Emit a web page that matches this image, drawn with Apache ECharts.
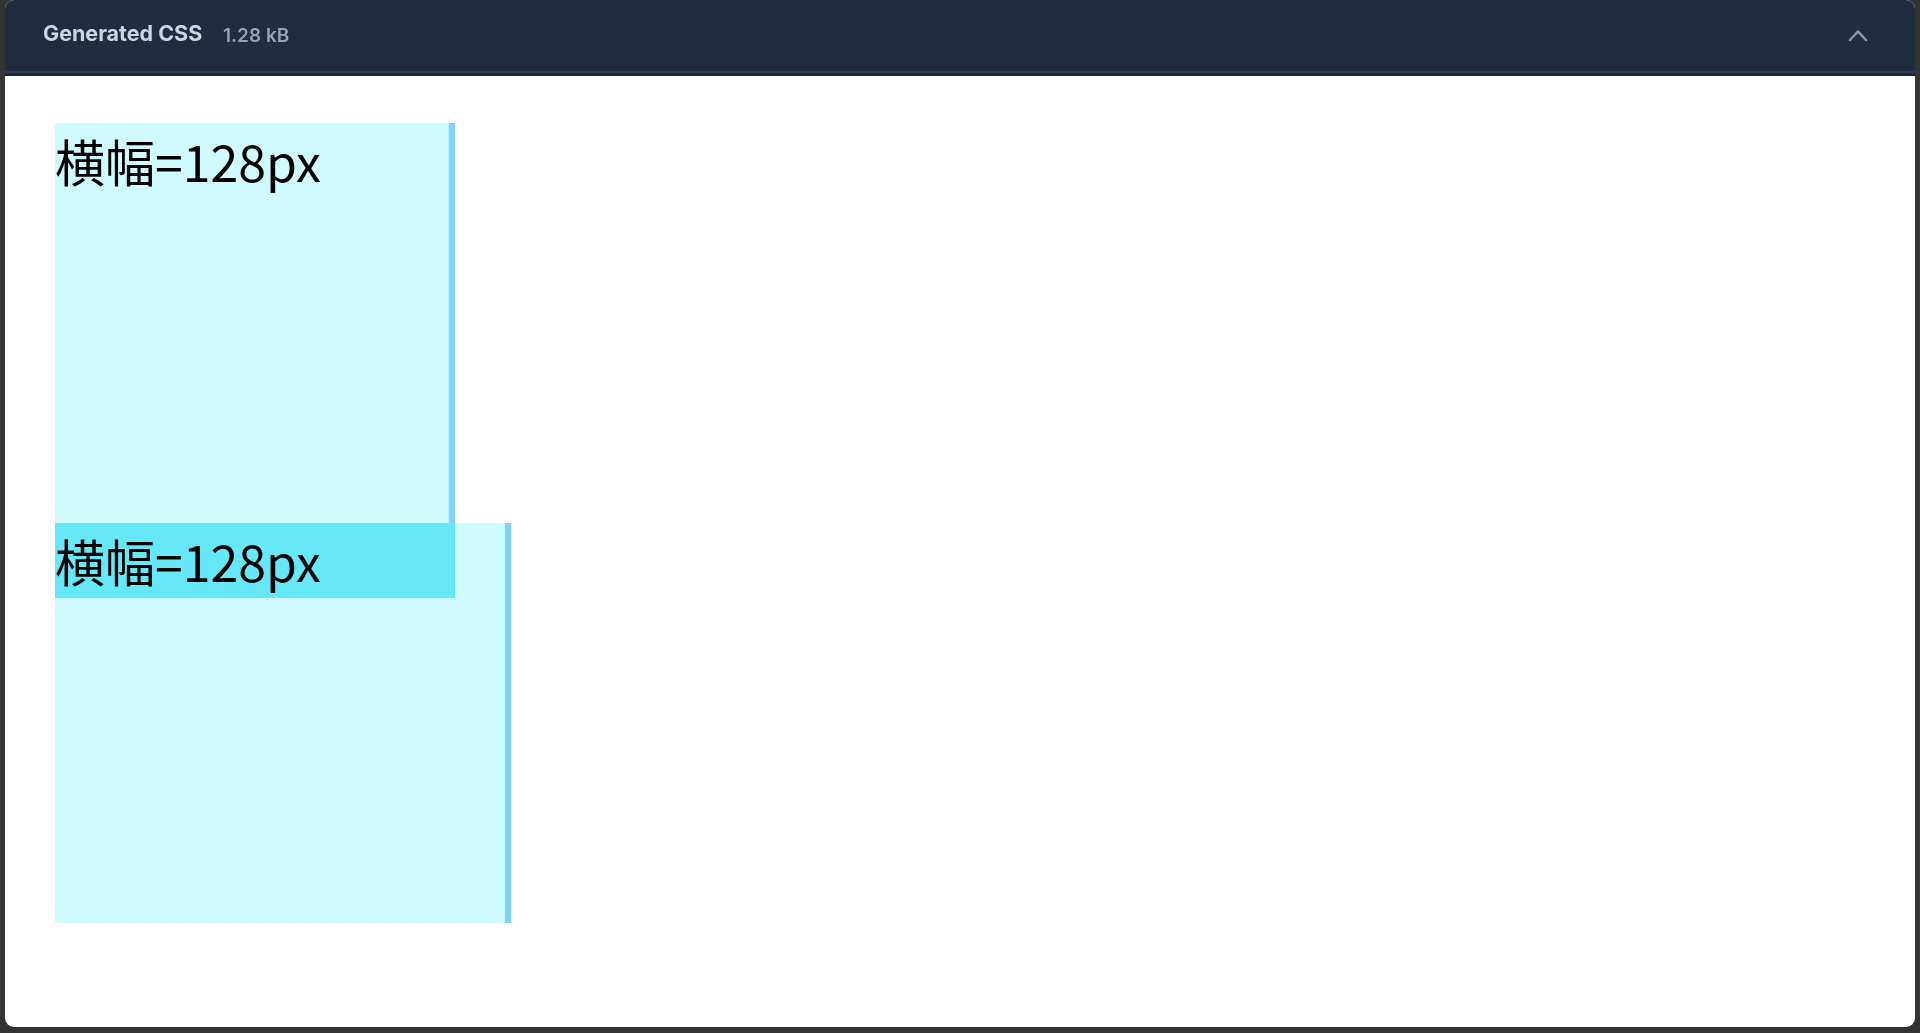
<!DOCTYPE html>
<html>
<head>
<meta charset="utf-8">
<script src="https://cdn.jsdelivr.net/npm/echarts@6/dist/echarts.min.js"></script>
<style>
html,body{margin:0;padding:0;background:#333;}
#main{width:1920px;height:1033px;}
</style>
</head>
<body>
<div id="main"></div>
<script>
// Demo boxes (CSS px units)
const boxLabels = ['横幅=128px', '横幅=128px'];
const boxWidths = [128, 146];        // outer width incl. right border
const boxHeights = [128, 128];
const labelHighlightWidths = [0, 128]; // highlighted label band width
const borderRightWidth = 2;
const labelLineHeight = 24;
const headerTitle = 'Generated CSS';
const headerSize = '1.28 kB';

const boxData = [];
let boxOffset = 0;
for (let i = 0; i < boxLabels.length; i++) {
  boxData.push([i, boxOffset, boxWidths[i], boxHeights[i], labelHighlightWidths[i]]);
  boxOffset += boxHeights[i];
}

const chart = echarts.init(document.getElementById('main'), null, {renderer: 'canvas'});

function renderItem(params, api) {
  const i = api.value(0);
  const t = api.value(1);
  const w = api.value(2);
  const h = api.value(3);
  const hl = api.value(4);
  const p0 = api.coord([0, t]);
  const pIn = api.coord([w - borderRightWidth, t + h]);
  const p1 = api.coord([w, t + h]);
  const children = [
    {type: 'rect', shape: {x: p0[0], y: p0[1], width: pIn[0] - p0[0], height: p1[1] - p0[1]}, style: {fill: '#cffafe'}},
    {type: 'rect', shape: {x: pIn[0], y: p0[1], width: p1[0] - pIn[0], height: p1[1] - p0[1]}, style: {fill: '#7dd3fc'}}
  ];
  const lh = api.coord([0, t + labelLineHeight]);
  if (hl > 0) {
    const ph = api.coord([hl, t + labelLineHeight]);
    children.push({type: 'rect', shape: {x: p0[0], y: p0[1], width: ph[0] - p0[0], height: ph[1] - p0[1]}, style: {fill: '#67e8f9'}});
  }
  children.push({
    type: 'text',
    style: {
      x: p0[0], y: (p0[1] + lh[1]) / 2 + 2,
      text: boxLabels[i],
      fill: '#000',
      font: '50px "Noto Sans CJK JP"',
      align: 'left', verticalAlign: 'middle'
    }
  });
  return {type: 'group', children: children};
}

chart.setOption({
  backgroundColor: '#333333',
  animation: false,
  graphic: [
    {type: 'rect', shape: {x: 5, y: 0, width: 1910, height: 1027, r: 9}, style: {fill: '#ffffff'}, z: -10},
    {type: 'rect', shape: {x: 5, y: 0, width: 1910, height: 76, r: [9, 9, 0, 0]}, style: {fill: '#222c3f'}, z: -9},
    {type: 'rect', shape: {x: 5, y: 71, width: 1910, height: 2}, style: {fill: '#303b4f'}, z: -8},
    {type: 'rect', shape: {x: 5, y: 73, width: 1910, height: 3}, style: {fill: '#1f2839'}, z: -8},
    {type: 'text', x: 43, y: 35, style: {text: headerTitle, fill: '#cbd5e1', font: '700 21.5px Inter', verticalAlign: 'middle'}, z: -7},
    {type: 'text', x: 223, y: 36, style: {text: headerSize, fill: '#94a3b8', font: '600 19px Inter', verticalAlign: 'middle'}, z: -7},
    {type: 'polyline', shape: {points: [[1850, 40], [1858, 31.5], [1866, 40]]}, style: {stroke: '#8c9bb3', lineWidth: 2.5, fill: null, lineCap: 'round', lineJoin: 'round'}, z: -7}
  ],
  grid: {left: 55, top: 123, width: 1600, height: 800, show: false},
  xAxis: {type: 'value', min: 0, max: 512, show: false},
  yAxis: {type: 'value', min: 0, max: 256, inverse: true, show: false},
  series: [{
    type: 'custom',
    renderItem: renderItem,
    data: boxData,
    encode: {x: [0, 2], y: [1, 3]},
    clip: false
  }]
});
</script>
</body>
</html>
